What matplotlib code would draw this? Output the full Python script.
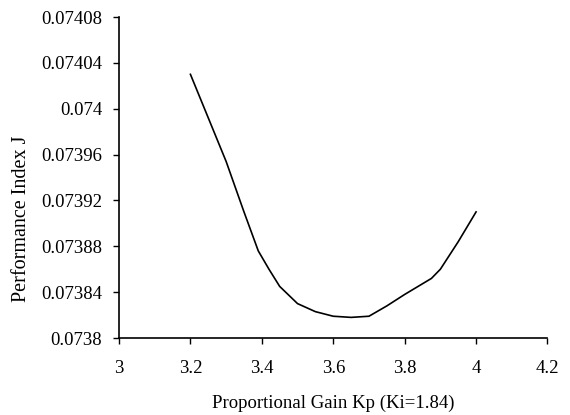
import matplotlib
matplotlib.use("Agg")
from matplotlib import pyplot as plt
from matplotlib.ticker import FuncFormatter

# Performance index J against proportional gain Kp (Ki fixed at 1.84)
kp = [3.2, 3.25, 3.3, 3.35, 3.39, 3.42, 3.45, 3.5, 3.55, 3.6, 3.65, 3.7,
      3.75, 3.8, 3.875, 3.9, 3.95, 4.0]
j_index = [0.07403, 0.073992, 0.073954, 0.07391, 0.073876, 0.07386, 0.073845,
           0.07383, 0.073823, 0.073819, 0.073818, 0.073819,
           0.073828, 0.073838, 0.073852, 0.07386, 0.073884, 0.07391]

x_ticks = [3, 3.2, 3.4, 3.6, 3.8, 4, 4.2]
y_ticks = [0.0738, 0.07384, 0.07388, 0.07392, 0.07396, 0.074, 0.07404, 0.07408]

plt.rcParams['font.family'] = ['Liberation Serif', 'DejaVu Serif']
plt.rcParams['font.size'] = 13.5

fig = plt.figure(figsize=(5.7, 4.15), dpi=100)
ax = fig.add_axes([0.2088, 0.1855, 0.7517, 0.7735])
ax.plot(kp, j_index, color='black', linewidth=1.2)

ax.set_xlim(3, 4.2)
ax.set_ylim(0.0738, 0.07408)
ax.set_xticks(x_ticks)
ax.set_yticks(y_ticks)
ax.xaxis.set_major_formatter(FuncFormatter(lambda v, p: f"{v:g}"))
ax.yaxis.set_major_formatter(
    FuncFormatter(lambda v, p: f"{v:.5f}".rstrip('0').rstrip('.')))

for side in ['top', 'right']:
    ax.spines[side].set_visible(False)
for side in ['left', 'bottom']:
    ax.spines[side].set_linewidth(1.2)
ax.tick_params(axis='both', direction='out', length=4, width=1.0)
ax.tick_params(axis='x', pad=12)
ax.tick_params(axis='y', pad=8)

fig.text(333 / 570, 1 - 403 / 415, 'Proportional Gain Kp (Ki=1.84)',
         ha='center', va='center')
fig.text(22 / 570, 1 - 219 / 415, 'Performance Index J', rotation=90,
         ha='center', va='center', fontsize=14.5)

fig.savefig('out.png', dpi=100)
